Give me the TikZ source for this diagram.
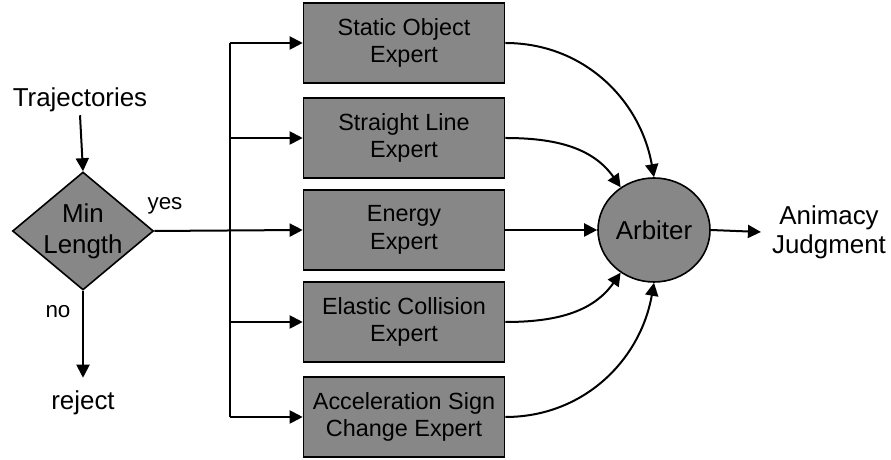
\documentclass[tikz,border=0pt]{standalone}
\usepackage{fontspec}
\setmainfont{Liberation Sans}
\usetikzlibrary{shapes.geometric,arrows.meta}
\definecolor{boxgray}{RGB}{135,135,135}
\tikzset{
  x=1bp, y=1bp,
  conn/.style={line width=2bp, draw=black},
  arr/.style={conn, -{Triangle[length=13bp,width=13bp]}},
  expertbox/.style={draw=black, line width=1.6bp, fill=boxgray, minimum width=201bp, minimum height=80bp, inner sep=0pt, align=center, font=\fontsize{23.5}{28}\selectfont},
  biglabel/.style={font=\fontsize{26}{29}\selectfont, align=center, inner sep=3bp},
  smalllabel/.style={font=\fontsize{22.5}{27}\selectfont, inner sep=0pt},
}
\begin{document}
\begin{tikzpicture}
\useasboundingbox (0,0) rectangle (891,460);
% input / decision
\node[biglabel] (traj) at (80,360) {Trajectories};
\node[diamond, draw=black, line width=1.6bp, fill=boxgray, minimum width=141bp, minimum height=118bp, inner sep=0pt] (dec) at (83,229) {};
\node[font=\fontsize{26}{31}\selectfont, align=center] (declabel) at (dec.center) {Min\\Length};
\node[smalllabel] (yes) at (165,254) {yes};
\node[smalllabel] (no) at (58,148) {no};
\node[biglabel] (rej) at (83,57) {reject};
% experts
\node[expertbox] (b1) at (404,417) {Static Object\\Expert};
\node[expertbox] (b2) at (404,322) {Straight Line\\Expert};
\node[expertbox] (b3) at (404,230) {Energy\\Expert};
\node[expertbox] (b4) at (404,138) {Elastic Collision\\Expert};
\node[expertbox] (b5) at (404,43) {Acceleration Sign\\Change Expert};
% arbiter
\node[ellipse, draw=black, line width=1.6bp, fill=boxgray, minimum width=112bp, minimum height=104bp, inner sep=0pt, font=\fontsize{26}{29}\selectfont] (arb) at (654,230) {Arbiter};
\node[biglabel] (anim) at (829,228) {Animacy\\Judgment};
\coordinate (bx) at (230,0);
% connectors
\draw[arr] (traj.south) -- (dec.north);
\draw[arr] (dec.south) -- ([yshift=10bp]rej.north);
\draw[arr] (dec.east) -- (b3.west);
\draw[conn] (bx |- b1.west) -- (bx |- b5.west);
\draw[arr] (bx |- b1.west) -- (b1.west);
\draw[arr] (bx |- b2.west) -- (b2.west);
\draw[arr] (bx |- b4.west) -- (b4.west);
\draw[arr] (bx |- b5.west) -- (b5.west);
\draw[arr] (b1.east) to[out=0,in=100] (arb.north);
\draw[arr] (b2.east) to[out=0,in=125] (arb.128);
\draw[arr] (b3.east) -- (arb.west);
\draw[arr] (b4.east) to[out=0,in=235] (arb.232);
\draw[arr] (b5.east) to[out=0,in=-100] (arb.south);
\draw[arr] (arb.east) -- ([xshift=-8bp]anim.west);
\end{tikzpicture}
\end{document}
